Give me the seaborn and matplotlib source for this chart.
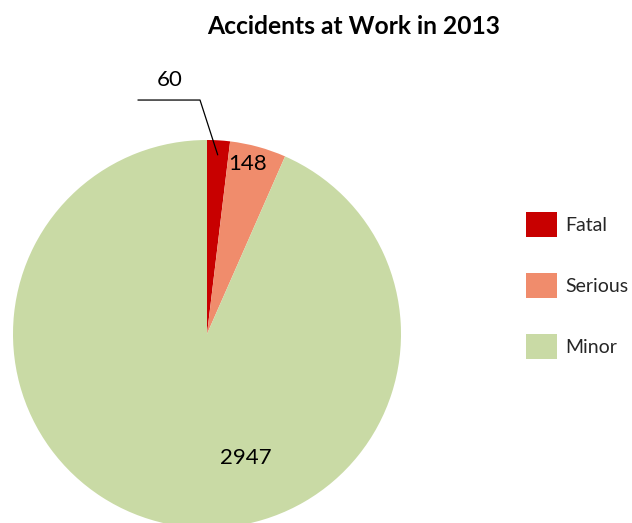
import matplotlib
matplotlib.use("Agg")
import matplotlib.pyplot as plt
from matplotlib.patches import Patch
import numpy as np
import seaborn as sns

# Accident counts by severity
categories = ["Fatal", "Serious", "Minor"]
counts = [60, 148, 2947]
colors = sns.color_palette(["#C80000", "#F08C6C", "#C9DAA5"])

sns.set_theme(style="white")
plt.rcParams["font.family"] = ["Lato", "DejaVu Sans"]

W, H = 632, 523
fig = plt.figure(figsize=(W / 100, H / 100), dpi=100)
fig.patch.set_facecolor("white")

# Pie axes placed in pixel terms (left, bottom, size)
R = 194
cx, cy = 207, 334
ax = fig.add_axes([(cx - R) / W, (H - cy - R) / H, 2 * R / W, 2 * R / H])
wedges, _ = ax.pie(counts, colors=colors, startangle=90, counterclock=False,
                   radius=1.0, wedgeprops=dict(linewidth=0))
ax.set_xlim(-1, 1)
ax.set_ylim(-1, 1)
ax.set_aspect("equal")
ax.axis("off")

# Value labels
total = sum(counts)
fracs = np.array(counts) / total
ends = np.cumsum(fracs) * 360
mids = ends - fracs * 180
def pos(angle_deg, dist):
    a = np.deg2rad(90 - angle_deg)
    return dist * np.cos(a), dist * np.sin(a)

# Fatal: outside with leader line
lx, ly = pos(mids[0], 0.925)
ax.plot([-0.356, -0.036, lx], [1.206, 1.206, ly], color="black", lw=0.9,
        clip_on=False)
ax.text(-0.19, 1.31, str(counts[0]), ha="center", va="center", fontsize=16,
        color="black")
# Serious: inside near rim
sx, sy = pos(mids[1] - 2, 0.90)
ax.text(sx, sy, str(counts[1]), ha="center", va="center", fontsize=16,
        color="black")
# Minor
ax.text(0.2, -0.64, str(counts[2]), ha="center", va="center", fontsize=16,
        color="black")

fig.text((208 + 500) / 2 / W, 1 - 27 / H, "Accidents at Work in 2013",
         ha="center", va="center", fontsize=17.7, fontweight="bold",
         color="black")

handles = [Patch(facecolor=c, edgecolor="none", label=l)
           for c, l in zip(colors, categories)]
fs = 14
fig.legend(handles=handles, loc="upper left",
           bbox_to_anchor=(518 / W, 1 - 204 / H), frameon=False,
           fontsize=fs, handlelength=1.6, handleheight=1.6,
           labelspacing=1.86, handletextpad=0.45, borderaxespad=0)

fig.savefig("out.png", dpi=100, facecolor="white")
